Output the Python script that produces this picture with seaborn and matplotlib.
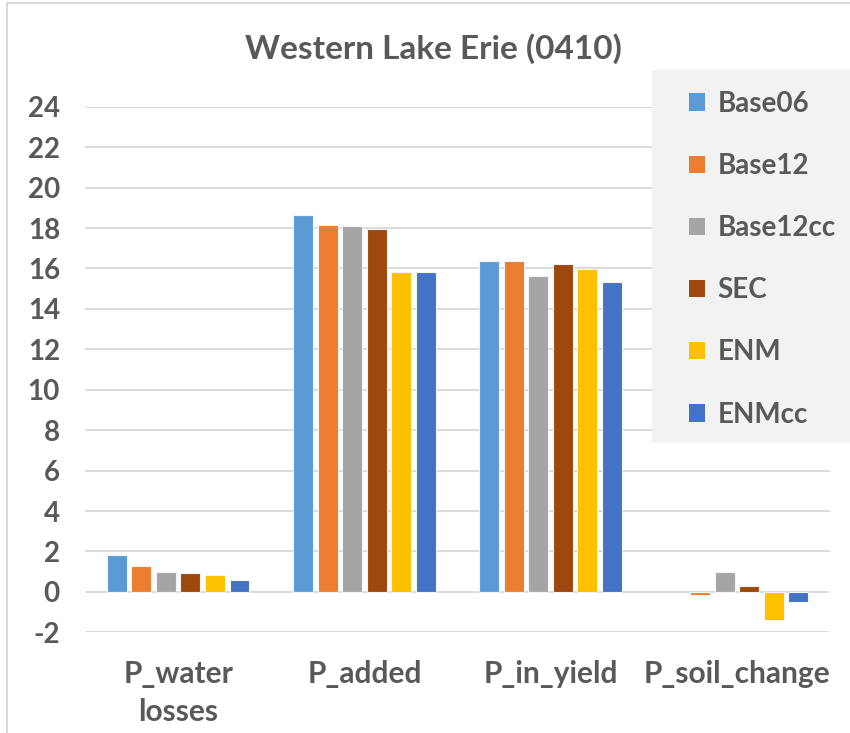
import numpy as np
import pandas as pd
import matplotlib.pyplot as plt
import matplotlib.patches as mpatches
import seaborn as sns

categories = ['P_water\nlosses', 'P_added', 'P_in_yield', 'P_soil_change']
scenarios = ['Base06', 'Base12', 'Base12cc', 'SEC', 'ENM', 'ENMcc']
colors = ['#5B9BD5', '#ED7D31', '#A5A5A5', '#9E480E', '#FFC000', '#4472C4']

base06 = [1.80, 18.62, 16.36, np.nan]
base12 = [1.27, 18.16, 16.36, -0.17]
base12cc = [0.99, 18.08, 15.63, 1.00]
sec = [0.93, 17.96, 16.23, 0.28]
enm = [0.81, 15.82, 15.96, -1.38]
enmcc = [0.60, 15.80, 15.35, -0.50]

series = [base06, base12, base12cc, sec, enm, enmcc]
rows = []
for name, vals in zip(scenarios, series):
    for cat, v in zip(categories, vals):
        rows.append({'category': cat, 'scenario': name, 'value': v})
df = pd.DataFrame(rows).dropna()

sns.set_style('white')
plt.rcParams['font.family'] = ['Lato', 'DejaVu Sans']
plt.rcParams['axes.unicode_minus'] = False
txt = '#595959'

fig = plt.figure(figsize=(8.5, 7.33), dpi=100)
ax = fig.add_axes([0.1, 0.1374, 0.8765, 0.717])

sns.barplot(data=df, x='category', y='value', hue='scenario',
            order=categories, hue_order=scenarios, palette=colors,
            saturation=1, width=0.79, gap=0.19, edgecolor='#f4f4f4',
            linewidth=0.8, legend=False, ax=ax, zorder=3)

ax.set_ylim(-2, 24)
ax.set_yticks(range(-2, 25, 2))
ax.set_xlim(-0.5, 3.5)
ax.grid(axis='y', color='#d9d9d9', linewidth=1.3, zorder=0)
ax.set_axisbelow(True)
for s in ax.spines.values():
    s.set_visible(False)
ax.tick_params(axis='both', length=0, labelcolor=txt)
ax.tick_params(axis='y', pad=18, labelsize=20)
ax.tick_params(axis='x', pad=20, labelsize=21.5)
for lab in ax.get_xticklabels() + ax.get_yticklabels():
    lab.set_fontweight('bold')
for lab in ax.get_xticklabels():
    lab.set_linespacing(1.45)
ax.set_xlabel('')
ax.set_ylabel('')

fig.suptitle('Western Lake Erie (0410)', x=0.51, y=0.955, fontsize=24,
             fontweight='bold', color=txt)

# legend background box
fig.patches.append(mpatches.Rectangle((0.767, 0.3956), 0.24, 0.509,
                                      transform=fig.transFigure,
                                      facecolor='#f2f2f2', edgecolor='none',
                                      zorder=5))
# chart border
fig.patches.append(mpatches.Rectangle((0.008, -0.01), 1.0, 1.006,
                                      transform=fig.transFigure, fill=False,
                                      edgecolor='#d9d9d9', linewidth=1.5,
                                      zorder=6))

handles = [mpatches.Patch(facecolor=c, edgecolor='none', label=n)
           for c, n in zip(colors, scenarios)]
leg = fig.legend(handles=handles, loc='upper left',
                 bbox_to_anchor=(0.797, 0.891), frameon=False,
                 fontsize=20, labelspacing=1.3, handlelength=0.6,
                 handleheight=0.6, handletextpad=0.45, borderaxespad=0)
leg.set_zorder(7)
for t in leg.get_texts():
    t.set_color(txt)
    t.set_fontweight('bold')

fig.savefig('out.png', dpi=100)
